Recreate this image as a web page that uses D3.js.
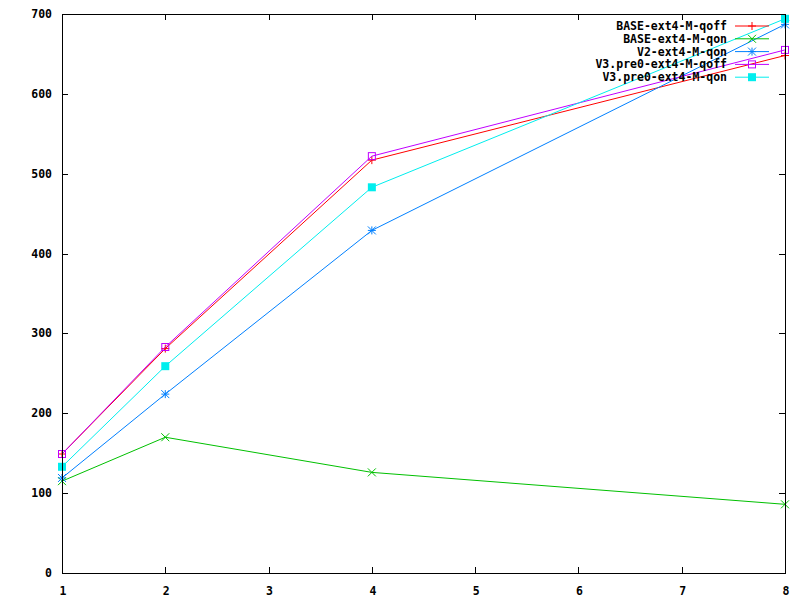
<!DOCTYPE html>
<html><head><meta charset="utf-8">
<script src="https://cdn.jsdelivr.net/npm/d3@7"></script>
<style>body{margin:0;background:#fff}svg{display:block}</style>
</head><body>
<script>
const xValues = [1, 2, 4, 8];
const seriesNames = ["BASE-ext4-M-qoff", "BASE-ext4-M-qon", "V2-ext4-M-qon", "V3.pre0-ext4-M-qoff", "V3.pre0-ext4-M-qon"];
const baseQoff = [149, 281, 517, 648];
const baseQon = [115, 170, 126, 86];
const v2Qon = [119, 224, 429, 687];
const v3Qoff = [149, 283, 522, 655];
const v3Qon = [133, 259, 483, 694];
const xTicks = [1, 2, 3, 4, 5, 6, 7, 8];
const yTicks = [0, 100, 200, 300, 400, 500, 600, 700];

const colors = ["#ff0000", "#00c000", "#0080ff", "#c000ff", "#00eeee"];
const markers = ["plus", "cross", "star", "box", "fbox"];
const allSeries = [baseQoff, baseQon, v2Qon, v3Qoff, v3Qon];

const W = 800, H = 600;
const L = 62, R = 785, T = 14, B = 573;
const svg = d3.select("body").append("svg").attr("width", W).attr("height", H);
const x = d3.scaleLinear().domain([1, 8]).range([L, R]);
const y = d3.scaleLinear().domain([0, 700]).range([B, T]);
const font = "'DejaVu Sans Mono', monospace";

// ticks (inward, mirrored)
const tl = 6;
const g = svg.append("g").attr("stroke", "#000").attr("stroke-width", 1).attr("shape-rendering", "crispEdges");
yTicks.forEach(v => {
  const yy = Math.round(y(v)) + 0.5;
  g.append("line").attr("x1", L).attr("x2", L + tl).attr("y1", yy).attr("y2", yy);
  g.append("line").attr("x1", R - tl).attr("x2", R).attr("y1", yy).attr("y2", yy);
});
xTicks.forEach(v => {
  const xx = Math.round(x(v)) + 0.5;
  g.append("line").attr("x1", xx).attr("x2", xx).attr("y1", B).attr("y2", B - tl);
  g.append("line").attr("x1", xx).attr("x2", xx).attr("y1", T).attr("y2", T + tl);
});

// tick labels
svg.append("g").selectAll("text").data(yTicks).join("text")
  .attr("x", L - 10).attr("y", d => y(d) + 4)
  .attr("text-anchor", "end").attr("font-family", font).attr("font-weight", "bold").attr("font-size", "11.5px")
  .text(d => d);
svg.append("g").selectAll("text").data(xTicks).join("text")
  .attr("x", d => x(d) + 1).attr("y", B + 22)
  .attr("text-anchor", "middle").attr("font-family", font).attr("font-weight", "bold").attr("font-size", "11.5px")
  .text(d => d);

function drawMarker(sel, type, cx, cy, color) {
  const s = 4;
  const gg = sel.append("g").attr("stroke", color).attr("stroke-width", 1).attr("fill", "none");
  if (type === "plus" || type === "star") {
    gg.append("line").attr("x1", cx - s).attr("x2", cx + s).attr("y1", cy).attr("y2", cy);
    gg.append("line").attr("x1", cx).attr("x2", cx).attr("y1", cy - s).attr("y2", cy + s);
  }
  if (type === "cross" || type === "star") {
    gg.append("line").attr("x1", cx - s).attr("x2", cx + s).attr("y1", cy - s).attr("y2", cy + s);
    gg.append("line").attr("x1", cx - s).attr("x2", cx + s).attr("y1", cy + s).attr("y2", cy - s);
  }
  if (type === "box") {
    gg.append("rect").attr("x", cx - 3.5).attr("y", cy - 3.5).attr("width", 7).attr("height", 7);
  }
  if (type === "fbox") {
    gg.append("rect").attr("x", cx - 4).attr("y", cy - 4).attr("width", 8).attr("height", 8).attr("fill", color).attr("stroke", "none");
  }
}

const line = d3.line().x((d, i) => x(xValues[i])).y(d => y(d));
const plot = svg.append("g");
allSeries.forEach((s, k) => {
  plot.append("path").datum(s).attr("d", line).attr("fill", "none").attr("stroke", colors[k]).attr("stroke-width", 1);
  s.forEach((v, i) => drawMarker(plot, markers[k], x(xValues[i]), y(v), colors[k]));
});

// legend
const lg = svg.append("g");
seriesNames.forEach((n, k) => {
  const ly = 26 + k * 12.8;
  lg.append("text").attr("x", 727).attr("y", ly + 4).attr("text-anchor", "end")
    .attr("font-family", font).attr("font-weight", "bold").attr("font-size", "11.5px").text(n);
  lg.append("line").attr("x1", 735).attr("x2", 769).attr("y1", ly).attr("y2", ly).attr("stroke", colors[k]);
  drawMarker(lg, markers[k], 752, ly, colors[k]);
});

// border
svg.append("rect").attr("x", L + 0.5).attr("y", T + 0.5).attr("width", R - L).attr("height", B - T)
  .attr("fill", "none").attr("stroke", "#000").attr("shape-rendering", "crispEdges");
</script>
</body></html>
